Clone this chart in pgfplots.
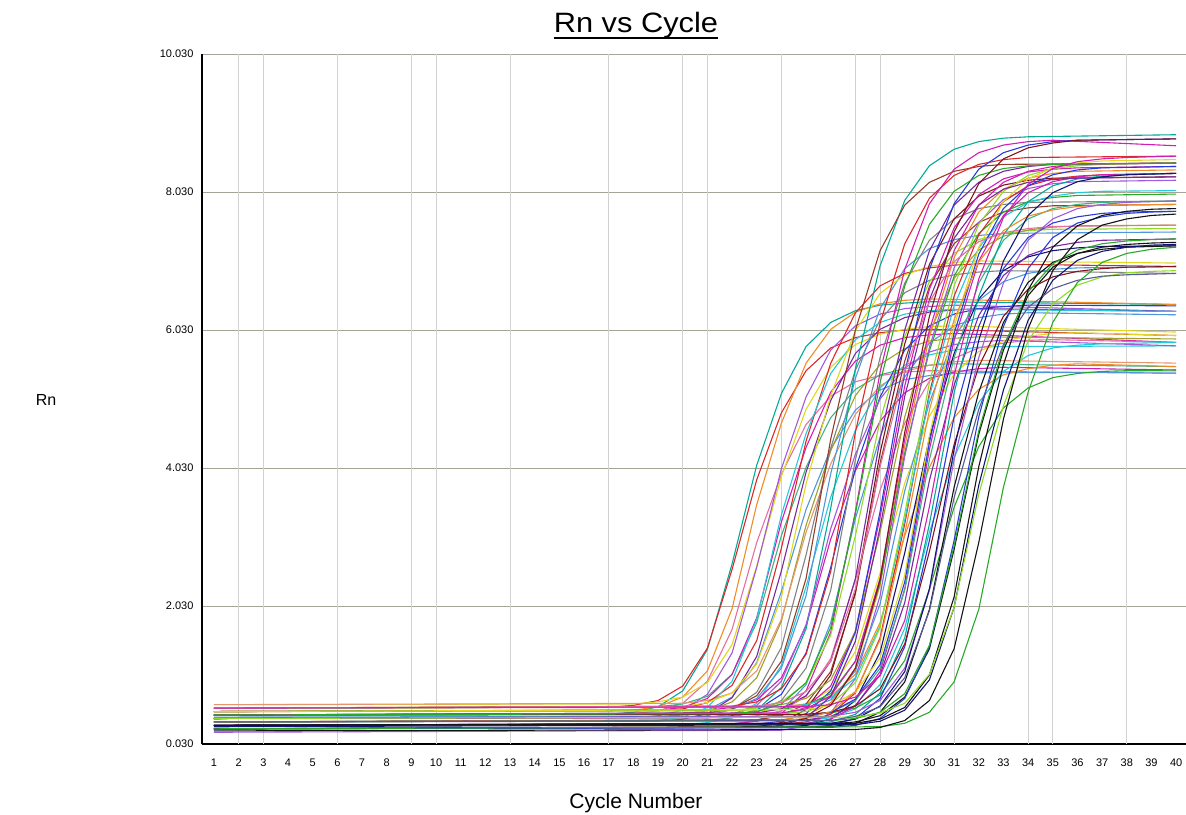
\documentclass[border=0pt]{standalone}
\usepackage{fontspec}
\setmainfont{Liberation Sans}
\usepackage{graphicx}
\usepackage{pgfplots}
\pgfplotsset{compat=1.18}
\definecolor{cteal}{RGB}{0,170,150}
\definecolor{cred}{RGB}{220,40,40}
\definecolor{cbrown}{RGB}{150,60,40}
\definecolor{corange}{RGB}{240,140,40}
\definecolor{cyellow}{RGB}{225,215,30}
\definecolor{colive}{RGB}{160,160,40}
\definecolor{cgreen}{RGB}{40,170,40}
\definecolor{clime}{RGB}{140,220,40}
\definecolor{ccyan}{RGB}{40,200,220}
\definecolor{csky}{RGB}{80,150,220}
\definecolor{cblue}{RGB}{40,60,220}
\definecolor{cnavy}{RGB}{20,20,120}
\definecolor{cpurple}{RGB}{120,40,160}
\definecolor{cviolet}{RGB}{160,90,220}
\definecolor{cmagenta}{RGB}{210,30,180}
\definecolor{cpink}{RGB}{230,110,160}
\definecolor{cgray}{RGB}{130,130,130}
\definecolor{cblack}{RGB}{20,20,20}
\definecolor{cdarkred}{RGB}{130,20,30}
\definecolor{cseagreen}{RGB}{60,180,130}
\definecolor{csalmon}{RGB}{230,150,110}
\definecolor{cslate}{RGB}{90,90,150}
\definecolor{gridy}{RGB}{165,165,150}
\definecolor{gridx}{RGB}{210,210,210}
\begin{document}
\begin{tikzpicture}
\path[use as bounding box] (-202pt,-70pt) rectangle (984pt,744pt);
\begin{axis}[
  at={(0pt,0pt)}, anchor=south west,
  scale only axis, width=984pt, height=690pt,
  xmin=0.514, xmax=40.4, ymin=0.03, ymax=10.03,
  xtick={1,...,40},
  ytick={0.03,2.03,4.03,6.03,8.03,10.03},
  yticklabels={0.030,2.030,4.030,6.030,8.030,10.030},
  major tick length=0pt,
  ymajorgrids=true,
  major grid style={color=gridy, line width=0.8pt},
  extra x ticks={2,3,6,9,10,13,17,20,21,24,27,28,31,34,35,38},
  extra x tick labels={},
  extra x tick style={xmajorgrids=true, major grid style={color=gridx, line width=0.8pt}},
  axis x line*=bottom, axis y line*=left,
  axis line style={black, line width=2.4pt, -},
  ticklabel style={font=\fontsize{11}{12}\selectfont},
  /pgf/number format/assume math mode=true,
  xticklabel style={yshift=-11pt},
  yticklabel style={xshift=-5pt},
  every axis plot/.append style={line width=1.1pt},
]
% early group
\addplot[cteal] coordinates {(1,.45)(17,.46)(18,.49)(19,.57)(20,.80)(21,1.40)(22,2.64)(23,4.07)(24,5.11)(25,5.79)(26,6.14)(27,6.31)(28,6.39)(29,6.42)(30,6.44)(40,6.40)};
\addplot[cred] coordinates {(1,.55)(17,.56)(18,.59)(19,.66)(20,.87)(21,1.42)(22,2.56)(23,3.86)(24,4.83)(25,5.44)(26,5.77)(27,5.92)(28,5.99)(29,6.03)(30,6.04)(40,5.95)};
\addplot[corange] coordinates {(1,.50)(18,.52)(19,.57)(20,.71)(21,1.09)(22,1.99)(23,3.50)(24,4.68)(25,5.55)(26,6.04)(27,6.29)(28,6.41)(29,6.46)(30,6.48)(40,6.40)};
\addplot[cpink] coordinates {(1,.45)(18,.47)(19,.51)(20,.62)(21,.94)(22,1.69)(23,2.95)(24,3.94)(25,4.66)(26,5.07)(27,5.28)(28,5.37)(29,5.42)(30,5.44)(40,5.40)};
\addplot[cyellow] coordinates {(1,.60)(18,.61)(19,.64)(20,.71)(21,.92)(22,1.47)(23,2.61)(24,3.91)(25,4.88)(26,5.49)(27,5.82)(28,5.97)(29,6.04)(30,6.08)(31,6.09)(40,6.00)};
\addplot[cviolet] coordinates {(1,.40)(18,.41)(19,.44)(20,.52)(21,.75)(22,1.35)(23,2.59)(24,4.02)(25,5.06)(26,5.74)(27,6.09)(28,6.26)(29,6.34)(30,6.37)(31,6.39)(40,6.30)};
\addplot[cseagreen] coordinates {(1,.55)(19,.57)(20,.61)(21,.72)(22,1.04)(23,1.79)(24,3.05)(25,4.04)(26,4.76)(27,5.17)(28,5.38)(29,5.47)(30,5.52)(31,5.54)(40,5.50)};
\addplot[cmagenta] coordinates {(1,.50)(19,.52)(20,.56)(21,.69)(22,1.04)(23,1.86)(24,3.25)(25,4.33)(26,5.13)(27,5.58)(28,5.81)(29,5.92)(30,5.96)(31,5.98)(40,5.85)};
\addplot[csky] coordinates {(1,.42)(19,.43)(20,.45)(21,.52)(22,.71)(23,1.21)(24,2.24)(25,3.43)(26,4.31)(27,4.87)(28,5.16)(29,5.31)(30,5.37)(31,5.40)(32,5.41)(40,5.42)};
\addplot[cpurple] coordinates {(1,.35)(19,.36)(20,.39)(21,.47)(22,.70)(23,1.30)(24,2.54)(25,3.97)(26,5.01)(27,5.69)(28,6.04)(29,6.21)(30,6.29)(31,6.32)(32,6.34)(40,6.30)};
\addplot[colive] coordinates {(1,.45)(20,.47)(21,.51)(22,.64)(23,.99)(24,1.81)(25,3.20)(26,4.28)(27,5.08)(28,5.53)(29,5.76)(30,5.87)(31,5.91)(32,5.93)(40,5.90)};
\addplot[csalmon] coordinates {(1,.60)(20,.62)(21,.66)(22,.77)(23,1.09)(24,1.84)(25,3.10)(26,4.09)(27,4.81)(28,5.22)(29,5.43)(30,5.52)(31,5.57)(32,5.59)(40,5.55)};
\addplot[ccyan] coordinates {(1,.30)(20,.31)(21,.34)(22,.41)(23,.62)(24,1.17)(25,2.31)(26,3.61)(27,4.58)(28,5.19)(29,5.52)(30,5.67)(31,5.74)(32,5.78)(33,5.79)(40,5.80)};
\addplot[cmagenta] coordinates {(1,.50)(21,.52)(22,.56)(23,.67)(24,.99)(25,1.74)(26,3.00)(27,3.99)(28,4.71)(29,5.12)(30,5.33)(31,5.42)(32,5.47)(33,5.49)(40,5.45)};
\addplot[cblue] coordinates {(1,.40)(21,.41)(22,.44)(23,.52)(24,.75)(25,1.35)(26,2.59)(27,4.02)(28,5.06)(29,5.74)(30,6.09)(31,6.26)(32,6.34)(33,6.37)(34,6.39)(40,6.38)};
\addplot[cgray] coordinates {(1,.40)(20,.41)(21,.44)(22,.53)(23,.78)(24,1.43)(25,2.77)(26,4.32)(27,5.45)(28,6.18)(29,6.57)(30,6.75)(31,6.83)(32,6.87)(33,6.89)(40,6.85)};
\addplot[csky] coordinates {(1,.45)(21,.48)(22,.53)(23,.69)(24,1.13)(25,2.18)(26,3.95)(27,5.33)(28,6.34)(29,6.92)(30,7.21)(31,7.34)(32,7.40)(33,7.43)(40,7.45)};
\addplot[cred] coordinates {(1,.50)(19,.51)(20,.54)(21,.63)(22,.88)(23,1.53)(24,2.87)(25,4.42)(26,5.55)(27,6.28)(28,6.67)(29,6.85)(30,6.93)(31,6.97)(32,6.99)(40,6.95)};
\addplot[ccyan] coordinates {(1,.35)(19,.37)(20,.42)(21,.56)(22,.94)(23,1.84)(24,3.35)(25,4.53)(26,5.40)(27,5.89)(28,6.14)(29,6.26)(30,6.31)(31,6.33)(40,6.30)};
\addplot[cyellow] coordinates {(1,.55)(20,.57)(21,.63)(22,.77)(23,1.19)(24,2.16)(25,3.80)(26,5.08)(27,6.02)(28,6.56)(29,6.83)(30,6.95)(31,7.01)(32,7.03)(40,7.00)};
\addplot[cteal] coordinates {(1,.35)(21,.37)(22,.41)(23,.52)(24,.85)(25,1.70)(26,3.45)(27,5.47)(28,6.96)(29,7.91)(30,8.41)(31,8.65)(32,8.76)(33,8.81)(34,8.83)(40,8.86)};
\addplot[cbrown] coordinates {(1,.45)(21,.48)(22,.54)(23,.73)(24,1.23)(25,2.43)(26,4.45)(27,6.03)(28,7.18)(29,7.84)(30,8.17)(31,8.33)(32,8.40)(33,8.43)(40,8.45)};
% middle, lower plateau
\addplot[csky] coordinates {(1,.30)(22,.32)(23,.37)(24,.51)(25,.89)(26,1.79)(27,3.30)(28,4.48)(29,5.35)(30,5.84)(31,6.09)(32,6.21)(33,6.26)(34,6.28)(40,6.25)};
\addplot[cviolet] coordinates {(1,.40)(21,.42)(22,.46)(23,.59)(24,.94)(25,1.76)(26,3.15)(27,4.23)(28,5.03)(29,5.48)(30,5.71)(31,5.82)(32,5.86)(33,5.88)(40,5.80)};
\addplot[cpink] coordinates {(1,.40)(22,.41)(23,.44)(24,.51)(25,.72)(26,1.27)(27,2.41)(28,3.71)(29,4.68)(30,5.29)(31,5.62)(32,5.77)(33,5.84)(34,5.88)(35,5.89)(40,5.85)};
\addplot[cyellow] coordinates {(1,.50)(23,.51)(24,.54)(25,.61)(26,.82)(27,1.37)(28,2.51)(29,3.81)(30,4.78)(31,5.39)(32,5.72)(33,5.87)(34,5.94)(35,5.98)(36,5.99)(40,5.95)};
\addplot[corange] coordinates {(1,.55)(24,.57)(25,.61)(26,.72)(27,1.04)(28,1.79)(29,3.05)(30,4.04)(31,4.76)(32,5.17)(33,5.38)(34,5.47)(35,5.52)(36,5.54)(40,5.50)};
\addplot[ccyan] coordinates {(1,.35)(25,.37)(26,.41)(27,.54)(28,.89)(29,1.71)(30,3.10)(31,4.18)(32,4.98)(33,5.43)(34,5.66)(35,5.77)(36,5.81)(37,5.83)(40,5.85)};
\addplot[cgreen] coordinates {(1,.45)(25,.46)(26,.48)(27,.55)(28,.74)(29,1.24)(30,2.27)(31,3.46)(32,4.34)(33,4.90)(34,5.19)(35,5.34)(36,5.40)(37,5.43)(38,5.44)(40,5.45)};
% dense group
\addplot[cred] coordinates {(1,.55)(22,.58)(23,.64)(24,.83)(25,1.33)(26,2.53)(27,4.55)(28,6.13)(29,7.28)(30,7.94)(31,8.27)(32,8.43)(33,8.50)(34,8.53)(40,8.55)};
\addplot[cgray] coordinates {(1,.40)(22,.43)(23,.49)(24,.66)(25,1.13)(26,2.26)(27,4.15)(28,5.63)(29,6.71)(30,7.33)(31,7.64)(32,7.79)(33,7.85)(34,7.88)(40,7.90)};
\addplot[cmagenta] coordinates {(1,.30)(22,.32)(23,.36)(24,.47)(25,.80)(26,1.65)(27,3.40)(28,5.42)(29,6.91)(30,7.86)(31,8.36)(32,8.60)(33,8.71)(34,8.76)(35,8.78)(40,8.70)};
\addplot[clime] coordinates {(1,.50)(22,.52)(23,.55)(24,.64)(25,.91)(26,1.61)(27,3.05)(28,4.72)(29,5.94)(30,6.73)(31,7.14)(32,7.34)(33,7.43)(34,7.47)(35,7.49)(40,7.50)};
\addplot[cpurple] coordinates {(1,.45)(23,.48)(24,.54)(25,.73)(26,1.23)(27,2.43)(28,4.45)(29,6.03)(30,7.18)(31,7.84)(32,8.17)(33,8.33)(34,8.40)(35,8.43)(40,8.45)};
\addplot[cbrown] coordinates {(1,.35)(23,.38)(24,.44)(25,.61)(26,1.08)(27,2.21)(28,4.10)(29,5.58)(30,6.66)(31,7.28)(32,7.59)(33,7.74)(34,7.80)(35,7.83)(40,7.85)};
\addplot[cdarkred] coordinates {(1,.25)(23,.28)(24,.34)(25,.53)(26,1.03)(27,2.23)(28,4.25)(29,5.83)(30,6.98)(31,7.64)(32,7.97)(33,8.13)(34,8.20)(35,8.23)(40,8.25)};
\addplot[cmagenta] coordinates {(1,.40)(23,.42)(24,.45)(25,.56)(26,.87)(27,1.67)(28,3.32)(29,5.22)(30,6.62)(31,7.51)(32,7.99)(33,8.22)(34,8.32)(35,8.36)(36,8.38)(40,8.40)};
\addplot[colive] coordinates {(1,.55)(23,.57)(24,.60)(25,.69)(26,.96)(27,1.66)(28,3.10)(29,4.77)(30,5.99)(31,6.78)(32,7.19)(33,7.39)(34,7.48)(35,7.52)(36,7.54)(40,7.55)};
\addplot[cblue] coordinates {(1,.30)(23,.32)(24,.36)(25,.47)(26,.80)(27,1.65)(28,3.40)(29,5.42)(30,6.91)(31,7.86)(32,8.36)(33,8.60)(34,8.71)(35,8.76)(36,8.78)(40,8.80)};
\addplot[corange] coordinates {(1,.35)(24,.38)(25,.44)(26,.63)(27,1.13)(28,2.33)(29,4.35)(30,5.93)(31,7.08)(32,7.74)(33,8.07)(34,8.23)(35,8.30)(36,8.33)(40,8.35)};
\addplot[cgreen] coordinates {(1,.50)(24,.53)(25,.59)(26,.76)(27,1.23)(28,2.36)(29,4.25)(30,5.73)(31,6.81)(32,7.43)(33,7.74)(34,7.89)(35,7.95)(36,7.98)(40,8.00)};
\addplot[cviolet] coordinates {(1,.20)(24,.23)(25,.29)(26,.48)(27,.98)(28,2.18)(29,4.20)(30,5.78)(31,6.93)(32,7.59)(33,7.92)(34,8.08)(35,8.15)(36,8.18)(40,8.20)};
\addplot[csky] coordinates {(1,.45)(24,.47)(25,.53)(26,.67)(27,1.09)(28,2.06)(29,3.70)(30,4.98)(31,5.92)(32,6.46)(33,6.73)(34,6.85)(35,6.91)(36,6.93)(40,6.95)};
\addplot[cred] coordinates {(1,.30)(24,.32)(25,.35)(26,.46)(27,.77)(28,1.57)(29,3.22)(30,5.12)(31,6.52)(32,7.41)(33,7.89)(34,8.12)(35,8.22)(36,8.26)(37,8.28)(40,8.30)};
\addplot[ccyan] coordinates {(1,.55)(24,.57)(25,.60)(26,.70)(27,.99)(28,1.74)(29,3.28)(30,5.07)(31,6.38)(32,7.22)(33,7.67)(34,7.88)(35,7.97)(36,8.02)(37,8.04)(40,8.05)};
\addplot[cnavy] coordinates {(1,.25)(24,.27)(25,.30)(26,.39)(27,.66)(28,1.36)(29,2.80)(30,4.47)(31,5.69)(32,6.48)(33,6.89)(34,7.09)(35,7.18)(36,7.22)(37,7.24)(40,7.25)};
\addplot[clime] coordinates {(1,.45)(24,.47)(25,.50)(26,.61)(27,.92)(28,1.72)(29,3.37)(30,5.27)(31,6.67)(32,7.56)(33,8.04)(34,8.27)(35,8.37)(36,8.41)(37,8.43)(40,8.45)};
\addplot[cmagenta] coordinates {(1,.30)(25,.33)(26,.39)(27,.58)(28,1.08)(29,2.28)(30,4.30)(31,5.88)(32,7.03)(33,7.69)(34,8.02)(35,8.18)(36,8.25)(37,8.28)(40,8.30)};
\addplot[cseagreen] coordinates {(1,.40)(25,.43)(26,.49)(27,.66)(28,1.13)(29,2.26)(30,4.15)(31,5.63)(32,6.71)(33,7.33)(34,7.64)(35,7.79)(36,7.85)(37,7.88)(40,7.90)};
\addplot[cpurple] coordinates {(1,.35)(25,.38)(26,.43)(27,.59)(28,1.03)(29,2.08)(30,3.85)(31,5.23)(32,6.24)(33,6.82)(34,7.11)(35,7.24)(36,7.30)(37,7.33)(40,7.35)};
\addplot[cyellow] coordinates {(1,.50)(25,.53)(26,.59)(27,.78)(28,1.28)(29,2.48)(30,4.50)(31,6.08)(32,7.23)(33,7.89)(34,8.22)(35,8.38)(36,8.45)(37,8.48)(40,8.50)};
\addplot[cblue] coordinates {(1,.25)(25,.27)(26,.30)(27,.40)(28,.69)(29,1.44)(30,2.98)(31,4.77)(32,6.08)(33,6.92)(34,7.37)(35,7.58)(36,7.67)(37,7.72)(38,7.74)(40,7.75)};
\addplot[cteal] coordinates {(1,.30)(25,.32)(26,.35)(27,.46)(28,.77)(29,1.57)(30,3.22)(31,5.12)(32,6.52)(33,7.41)(34,7.89)(35,8.12)(36,8.22)(37,8.26)(38,8.28)(40,8.30)};
\addplot[cdarkred] coordinates {(1,.45)(25,.46)(26,.49)(27,.58)(28,.83)(29,1.48)(30,2.82)(31,4.37)(32,5.50)(33,6.23)(34,6.62)(35,6.80)(36,6.88)(37,6.92)(38,6.94)(40,6.95)};
\addplot[cmagenta] coordinates {(1,.45)(24,.48)(25,.54)(26,.73)(27,1.23)(28,2.43)(29,4.45)(30,6.03)(31,7.18)(32,7.84)(33,8.17)(34,8.33)(35,8.40)(36,8.43)(40,8.45)};
\addplot[cpurple] coordinates {(1,.25)(23,.27)(24,.30)(25,.41)(26,.72)(27,1.52)(28,3.17)(29,5.07)(30,6.47)(31,7.36)(32,7.84)(33,8.07)(34,8.17)(35,8.21)(36,8.23)(40,8.25)};
\addplot[cblue] coordinates {(1,.40)(25,.43)(26,.49)(27,.68)(28,1.18)(29,2.38)(30,4.40)(31,5.98)(32,7.13)(33,7.79)(34,8.12)(35,8.28)(36,8.35)(37,8.38)(40,8.40)};
\addplot[corange] coordinates {(1,.35)(24,.37)(25,.40)(26,.50)(27,.79)(28,1.54)(29,3.08)(30,4.87)(31,6.18)(32,7.02)(33,7.47)(34,7.68)(35,7.77)(36,7.82)(37,7.84)(40,7.85)};
\addplot[cgreen] coordinates {(1,.45)(22,.47)(23,.50)(24,.61)(25,.92)(26,1.72)(27,3.37)(28,5.27)(29,6.67)(30,7.56)(31,8.04)(32,8.27)(33,8.37)(34,8.41)(35,8.43)(40,8.45)};
\addplot[cpink] coordinates {(1,.55)(23,.58)(24,.63)(25,.79)(26,1.23)(27,2.28)(28,4.05)(29,5.43)(30,6.44)(31,7.02)(32,7.31)(33,7.44)(34,7.50)(35,7.53)(40,7.55)};
\addplot[cmagenta] coordinates {(1,.55)(25,.57)(26,.60)(27,.71)(28,1.02)(29,1.82)(30,3.47)(31,5.37)(32,6.77)(33,7.66)(34,8.14)(35,8.37)(36,8.47)(37,8.51)(38,8.53)(40,8.55)};
\addplot[cviolet] coordinates {(1,.40)(26,.43)(27,.49)(28,.66)(29,1.13)(30,2.26)(31,4.15)(32,5.63)(33,6.71)(34,7.33)(35,7.64)(36,7.79)(37,7.85)(38,7.88)(40,7.90)};
\addplot[cdarkred] coordinates {(1,.30)(24,.33)(25,.40)(26,.59)(27,1.13)(28,2.41)(29,4.55)(30,6.23)(31,7.45)(32,8.15)(33,8.51)(34,8.67)(35,8.74)(36,8.78)(40,8.80)};
% late group
\addplot[cblack] coordinates {(1,.25)(26,.28)(27,.33)(28,.49)(29,.93)(30,1.98)(31,3.75)(32,5.13)(33,6.14)(34,6.72)(35,7.01)(36,7.14)(37,7.20)(38,7.23)(40,7.25)};
\addplot[cnavy] coordinates {(1,.30)(26,.33)(27,.39)(28,.58)(29,1.08)(30,2.28)(31,4.30)(32,5.88)(33,7.03)(34,7.69)(35,8.02)(36,8.18)(37,8.25)(38,8.28)(40,8.30)};
\addplot[cblack] coordinates {(1,.30)(26,.32)(27,.35)(28,.44)(29,.71)(30,1.41)(31,2.85)(32,4.52)(33,5.74)(34,6.53)(35,6.94)(36,7.14)(37,7.23)(38,7.27)(39,7.29)(40,7.30)};
\addplot[cblue] coordinates {(1,.25)(26,.27)(27,.30)(28,.40)(29,.69)(30,1.44)(31,2.98)(32,4.77)(33,6.08)(34,6.92)(35,7.37)(36,7.58)(37,7.67)(38,7.72)(39,7.74)(40,7.75)};
\addplot[cgreen] coordinates {(1,.35)(26,.37)(27,.40)(28,.49)(29,.76)(30,1.46)(31,2.90)(32,4.57)(33,5.79)(34,6.58)(35,6.99)(36,7.19)(37,7.28)(38,7.32)(39,7.34)(40,7.35)};
\addplot[cnavy] coordinates {(1,.28)(27,.31)(28,.36)(29,.52)(30,.96)(31,2.01)(32,3.78)(33,5.16)(34,6.17)(35,6.75)(36,7.04)(37,7.17)(38,7.23)(39,7.26)(40,7.27)};
\addplot[cblack] coordinates {(1,.30)(27,.33)(28,.39)(29,.56)(30,1.03)(31,2.16)(32,4.05)(33,5.53)(34,6.61)(35,7.23)(36,7.54)(37,7.69)(38,7.75)(39,7.78)(40,7.79)};
\addplot[clime] coordinates {(1,.40)(27,.42)(28,.48)(29,.62)(30,1.04)(31,2.01)(32,3.65)(33,4.93)(34,5.87)(35,6.41)(36,6.68)(37,6.80)(38,6.86)(39,6.88)(40,6.89)};
\addplot[cslate] coordinates {(1,.35)(26,.37)(27,.43)(28,.57)(29,.99)(30,1.96)(31,3.60)(32,4.88)(33,5.82)(34,6.36)(35,6.63)(36,6.75)(37,6.81)(38,6.83)(40,6.85)};
\addplot[cgreen] coordinates {(1,.25)(28,.28)(29,.33)(30,.49)(31,.93)(32,1.98)(33,3.75)(34,5.13)(35,6.14)(36,6.72)(37,7.01)(38,7.14)(39,7.20)(40,7.23)};
\addplot[cblack] coordinates {(1,.22)(27,.24)(28,.27)(29,.37)(30,.66)(31,1.41)(32,2.95)(33,4.74)(34,6.05)(35,6.89)(36,7.34)(37,7.55)(38,7.64)(39,7.69)(40,7.71)};
\end{axis}
\node[anchor=base, inner sep=0pt] (t) at (434pt,711pt) {\fontsize{28}{30}\selectfont\scalebox{1.1}[1]{Rn vs Cycle}};
\draw[line width=2pt] ([yshift=-5.5pt]t.base west) -- ([yshift=-5.5pt]t.base east);
\node[anchor=base, inner sep=0pt] at (434pt,-64pt) {\fontsize{21}{24}\selectfont Cycle Number};
\node[inner sep=0pt] at (-156pt,344pt) {\fontsize{16}{18}\selectfont Rn};
\end{tikzpicture}
\end{document}
